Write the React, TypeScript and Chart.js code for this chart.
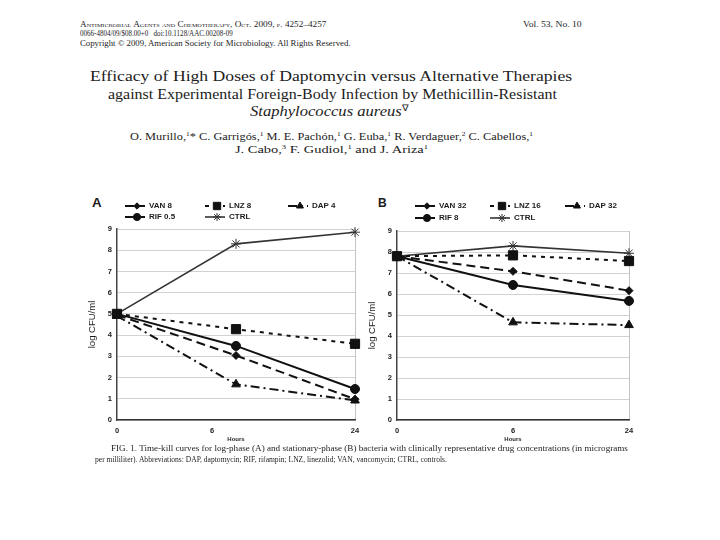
import React, { useEffect, useLayoutEffect, useRef } from 'react';
import { Chart, registerables } from 'chart.js';
import { drawPoint } from 'chart.js/helpers';

Chart.register(...registerables);
Chart.defaults.font.family = '"Liberation Sans", Arial, sans-serif';

// ---------------- data ----------------
const hourLabels = ['0', '6', '24'];
const hourIndex = [0, 1, 2];
const tickPosA = [0, 0.8, 2];
const tickPosB = [0, 1, 2];

const namesA = ['VAN 8', 'LNZ 8', 'DAP 4', 'RIF 0.5', 'CTRL'];
const vanA = [4.95, 3.04, 0.98];
const lnzA = [5.0, 4.28, 3.59];
const dapA = [4.9, 1.68, 0.92];
const rifA = [5.0, 3.49, 1.46];
const ctrlA = [5.0, 8.3, 8.85];

const namesB = ['VAN 32', 'LNZ 16', 'DAP 32', 'RIF 8', 'CTRL'];
const vanB = [7.8, 7.08, 6.16];
const lnzB = [7.8, 7.84, 7.57];
const dapB = [7.8, 4.65, 4.52];
const rifB = [7.8, 6.43, 5.67];
const ctrlB = [7.8, 8.29, 7.94];

// ---------------- styles ----------------
const seriesStyles = [
  { pointStyle: 'rectRot', radius: 4, dash: [9, 5], width: 2, color: '#111' },
  { pointStyle: 'rect', radius: 6.5, dash: [4, 5], width: 2, color: '#111' },
  { pointStyle: 'triangle', radius: 5, dash: [9, 4, 2, 4], width: 2, color: '#111' },
  { pointStyle: 'circle', radius: 4.5, dash: [], width: 2, color: '#111' },
  { pointStyle: 'star', radius: 5, dash: [], width: 1.6, color: '#333' },
];

const TEXT = '#1c1c1c';

const gridLegend = {
  id: 'gridLegend',
  afterDraw(chart: any, _args: any, opts: any) {
    const ctx = chart.ctx;
    ctx.save();
    chart.data.datasets.forEach((ds: any, i: number) => {
      const col = i < 3 ? i : i - 3;
      const row = i < 3 ? 0 : 1;
      const x0 = opts.cols[col];
      const y = opts.rows[row];
      ctx.strokeStyle = ds.borderColor;
      ctx.lineWidth = ds.borderWidth;
      ctx.setLineDash(ds.borderDash || []);
      ctx.beginPath();
      ctx.moveTo(x0, y);
      ctx.lineTo(x0 + 20, y);
      ctx.stroke();
      ctx.setLineDash([]);
      ctx.fillStyle = ds.pointBackgroundColor;
      ctx.strokeStyle = ds.pointBorderColor;
      ctx.lineWidth = ds.pointBorderWidth;
      drawPoint(ctx, { pointStyle: ds.pointStyle, radius: ds.pointRadius * 0.8, borderWidth: ds.pointBorderWidth, rotation: 0 } as any, x0 + 12, y);
      ctx.fillStyle = TEXT;
      ctx.font = 'bold 8px "Liberation Sans", Arial, sans-serif';
      ctx.textBaseline = 'middle';
      ctx.textAlign = 'left';
      ctx.fillText(ds.label, x0 + 24, y);
    });
    ctx.restore();
  },
};

function makeConfig(names: string[], series: number[][], tickPos: number[], legend: any, padding: any): any {
  return {
    type: 'line',
    data: {
      datasets: series.map((vals, i) => {
        const st = seriesStyles[i];
        return {
          label: names[i],
          data: vals.map((v, j) => ({ x: hourIndex[j], y: v })),
          borderColor: st.color,
          borderWidth: st.width,
          borderDash: st.dash,
          pointStyle: st.pointStyle,
          pointRadius: st.radius,
          pointBackgroundColor: st.color,
          pointBorderColor: st.color,
          pointBorderWidth: 1,
          tension: 0,
          clip: false,
          fill: false,
        };
      }),
    },
    options: {
      animation: false,
      responsive: false,
      layout: { padding },
      plugins: { legend: { display: false }, tooltip: { enabled: false }, gridLegend: legend },
      scales: {
        x: {
          type: 'linear',
          min: 0,
          max: 2,
          afterBuildTicks: (s: any) => {
            s.ticks = tickPos.map((v) => ({ value: v }));
          },
          afterFit: (s: any) => {
            s.height = 28;
          },
          ticks: {
            callback: (_v: any, i: number) => hourLabels[i],
            font: { size: 7.5, weight: 'bold' },
            color: TEXT,
            padding: 6,
            maxRotation: 0,
            autoSkip: false,
          },
          grid: {
            drawTicks: false,
            lineWidth: 1,
            color: (c: any) => (c.index === tickPos.length - 1 ? '#c4c4c4' : 'rgba(0,0,0,0)'),
          },
          border: { display: true, color: '#333', width: 1.5 },
          title: { display: true, text: 'Hours', font: { size: 6, weight: 'bold' }, color: TEXT, padding: { top: 0, bottom: 5 } },
        },
        y: {
          min: 0,
          max: 9,
          afterFit: (s: any) => {
            s.width = 37;
          },
          ticks: { stepSize: 1, font: { size: 7.5, weight: 'bold' }, color: TEXT, padding: 5 },
          grid: { drawTicks: false, color: '#d2d2d2', lineWidth: 1 },
          border: { display: true, color: '#444', width: 1.5 },
          title: { display: true, text: 'log CFU/ml', font: { size: 9.5 }, color: TEXT, padding: { top: 7, bottom: 0 } },
        },
      },
    },
    plugins: [gridLegend],
  };
}

function ChartPanel({ left, top, config }: { left: number; top: number; config: any }) {
  const ref = useRef<HTMLCanvasElement>(null);
  useEffect(() => {
    const chart = new Chart(ref.current as HTMLCanvasElement, config);
    return () => chart.destroy();
  }, []);
  return <canvas ref={ref} width={292} height={258} style={{ position: 'absolute', left, top, width: 292, height: 258 }} />;
}

const SERIF = '"Liberation Serif", "Times New Roman", serif';

function FitText(props: any) {
  const { x, base, w, size, italic, bold, smallCaps, family, children } = props;
  const ref = useRef<HTMLSpanElement>(null);
  useLayoutEffect(() => {
    const el = ref.current;
    if (!el) return;
    el.style.transform = 'none';
    const nat = el.offsetWidth;
    if (nat > 0) el.style.transform = `scaleX(${w / nat})`;
  });
  return (
    <span
      ref={ref}
      style={{
        position: 'absolute',
        left: x,
        top: base - size * 0.84,
        fontSize: size,
        lineHeight: `${size}px`,
        whiteSpace: 'nowrap',
        transformOrigin: '0 0',
        fontFamily: family || SERIF,
        fontStyle: italic ? 'italic' : 'normal',
        fontWeight: bold ? 'bold' : 'normal',
        fontVariant: smallCaps ? 'small-caps' : 'normal',
        color: TEXT,
      }}
    >
      {children}
    </span>
  );
}

const Sup = ({ children }: any) => (
  <span style={{ fontSize: '0.6em', position: 'relative', top: '-0.6em' }}>{children}</span>
);

export default function App() {
  const cfgA = makeConfig(
    namesA,
    [vanA, lnzA, dapA, rifA, ctrlA],
    tickPosA,
    { cols: [45, 125, 208], rows: [16, 27] },
    { left: 0, top: 39, right: 17, bottom: 0 }
  );
  const cfgB = makeConfig(
    namesB,
    [vanB, lnzB, dapB, rifB, ctrlB],
    tickPosB,
    { cols: [55, 130, 205], rows: [16, 28] },
    { left: 0, top: 41, right: 23, bottom: 0 }
  );
  return (
    <div style={{ position: 'absolute', left: 0, top: 0, width: 720, height: 540, background: '#fff', overflow: 'hidden' }}>
      <FitText x={80} base={27} w={247} size={7.5} smallCaps>
        Antimicrobial Agents and Chemotherapy, Oct. 2009, p. 4252–4257
      </FitText>
      <FitText x={523} base={27} w={59} size={7.5}>
        Vol. 53, No. 10
      </FitText>
      <FitText x={80} base={36} w={153} size={7.5}>
        0066-4804/09/$08.00+0&nbsp;&nbsp;&nbsp;doi:10.1128/AAC.00208-09
      </FitText>
      <FitText x={80} base={46} w={270} size={7.5}>
        Copyright © 2009, American Society for Microbiology. All Rights Reserved.
      </FitText>

      <FitText x={90} base={82} w={482} size={15}>
        Efficacy of High Doses of Daptomycin versus Alternative Therapies
      </FitText>
      <FitText x={108} base={100} w={449} size={15}>
        against Experimental Foreign-Body Infection by Methicillin-Resistant
      </FitText>
      <FitText x={250} base={117} w={158} size={15}>
        <i>Staphylococcus aureus</i>
        <Sup>∇</Sup>
      </FitText>
      <FitText x={130} base={140} w={403} size={10}>
        O. Murillo,<Sup>1</Sup>* C. Garrigós,<Sup>1</Sup> M. E. Pachón,<Sup>1</Sup> G. Euba,<Sup>1</Sup> R. Verdaguer,<Sup>2</Sup> C. Cabellos,<Sup>1</Sup>
      </FitText>
      <FitText x={235} base={153} w={193} size={10}>
        J. Cabo,<Sup>3</Sup> F. Gudiol,<Sup>1</Sup> and J. Ariza<Sup>1</Sup>
      </FitText>

      <FitText x={92} base={207} w={10} size={12} bold family='"Liberation Sans", Arial, sans-serif'>
        A
      </FitText>
      <FitText x={378} base={207} w={9} size={12} bold family='"Liberation Sans", Arial, sans-serif'>
        B
      </FitText>

      <ChartPanel left={80} top={190} config={cfgA} />
      <ChartPanel left={360} top={190} config={cfgB} />

      <FitText x={111} base={451} w={517} size={7.5}>
        FIG. 1. Time-kill curves for log-phase (A) and stationary-phase (B) bacteria with clinically representative drug concentrations (in micrograms
      </FitText>
      <FitText x={95} base={462} w={352} size={7.5}>
        per milliliter). Abbreviations: DAP, daptomycin; RIF, rifampin; LNZ, linezolid; VAN, vancomycin; CTRL, controls.
      </FitText>
    </div>
  );
}
